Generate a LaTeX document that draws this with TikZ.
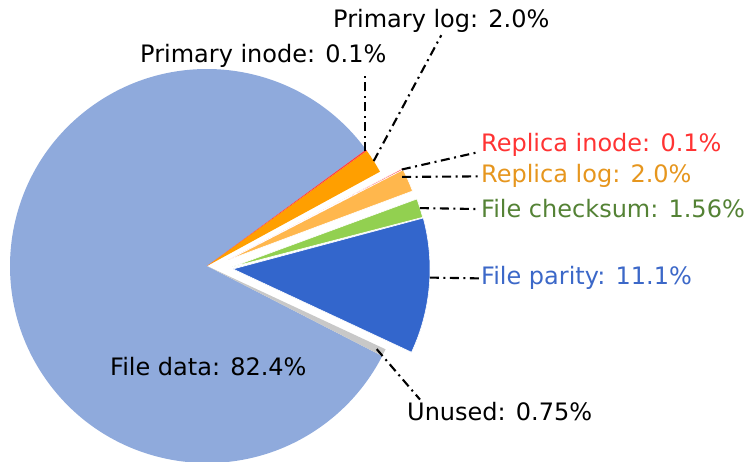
\documentclass[tikz,border=0pt]{standalone}
\usepackage{fontspec}
\setmainfont{DejaVu Sans}
\definecolor{datablue}{HTML}{8FAADC}
\definecolor{logorange}{HTML}{FF9F00}
\definecolor{replorange}{HTML}{FFB74D}
\definecolor{inodered}{HTML}{FF4040}
\definecolor{sumgreen}{HTML}{92D050}
\definecolor{paritblue}{HTML}{3366CC}
\definecolor{unusedgrey}{HTML}{C8C8C8}
\definecolor{redtext}{HTML}{FF3333}
\definecolor{orangetext}{HTML}{E6961E}
\definecolor{greentext}{HTML}{548235}
\definecolor{bluetext}{HTML}{3C68C8}
\begin{document}
\begin{tikzpicture}[x=1pt, y=1pt, line join=round,
    every node/.style={font=\fontsize{24}{28}\selectfont, inner sep=2pt, anchor=base west},
    wedge/.style={draw=white, line width=0.6pt},
    leader/.style={line width=2.1pt, dash pattern=on 9pt off 4.5pt on 2pt off 4.5pt}]
        \useasboundingbox (0,0) rectangle (745,461);

        % centres of the wedges (some are pulled out)
        \coordinate (C) at (207,195);
        \coordinate (Crep) at (228,201);
        \coordinate (Csum) at (232,194);
        \coordinate (Cpar) at (233,192);

        % wedges
        \fill[datablue] (C) -- ++(36.2:197) arc[start angle=36.2, end angle=332.8, radius=197] -- cycle;
        \fill[unusedgrey] (C) -- ++(-27.2:197) arc[start angle=-27.2, end angle=-25, radius=197] -- cycle;
        \fill[logorange] (C) -- ++(28.6:197) arc[start angle=28.6, end angle=35.8, radius=197] -- cycle;
        \fill[inodered] (C) -- ++(35.8:197) arc[start angle=35.8, end angle=36.2, radius=197] -- cycle;
        \filldraw[wedge, fill=replorange] (Crep) -- ++(20.5:197) arc[start angle=20.5, end angle=27.3, radius=197] -- cycle;
        \filldraw[wedge, fill=inodered] (Crep) -- ++(27.3:197) arc[start angle=27.3, end angle=27.7, radius=197] -- cycle;
        \filldraw[wedge, fill=sumgreen] (Csum) -- ++(14.6:197) arc[start angle=14.6, end angle=20.2, radius=197] -- cycle;
        \filldraw[wedge, fill=paritblue] (Cpar) -- ++(-25:197) arc[start angle=-25, end angle=15, radius=197] -- cycle;

        % labels
        \node (plog) at (331,433) {Primary log: 2.0\%};
        \node (pinode) at (138,398) {Primary inode: 0.1\%};
        \node[text=redtext] (rinode) at (479,309) {Replica inode: 0.1\%};
        \node[text=orangetext] (rlog) at (479,278) {Replica log: 2.0\%};
        \node[text=greentext] (fsum) at (479,243) {File checksum: 1.56\%};
        \node[text=bluetext] (fpar) at (479,176) {File parity: 11.1\%};
        \node (unused) at (405,41) {Unused: 0.75\%};
        \node (fdata) at (108,85) {File data: 82.4\%};

        % leader lines
        \coordinate (pinodept) at ([shift={(36:195)}]C);
        \coordinate (plogpt) at ([shift={(32.2:197)}]C);
        \coordinate (rinodept) at ([shift={(27.5:196)}]Crep);
        \coordinate (rlogpt) at ([shift={(25.5:193)}]Crep);
        \coordinate (fsumpt) at ([shift={(17.4:197)}]Csum);
        \coordinate (fparpt) at ([shift={(-2.5:197)}]Cpar);
        \coordinate (unusedpt) at ([shift={(-26.1:189)}]C);

        \draw[leader, shorten >=6pt] (pinodept) -- (pinodept |- pinode.south);
        \draw[leader] (plogpt) -- (plog.south);
        \draw[leader] (rinodept) -- (rinode.base west);
        \draw[leader] (rlogpt) -- (rlog.west);
        \draw[leader] (fsumpt) -- (fsum.west);
        \draw[leader] (fparpt) -- (fpar.west);
        \draw[leader] (unusedpt) -- ([xshift=15pt]unused.north west);
    \end{tikzpicture}
\end{document}
